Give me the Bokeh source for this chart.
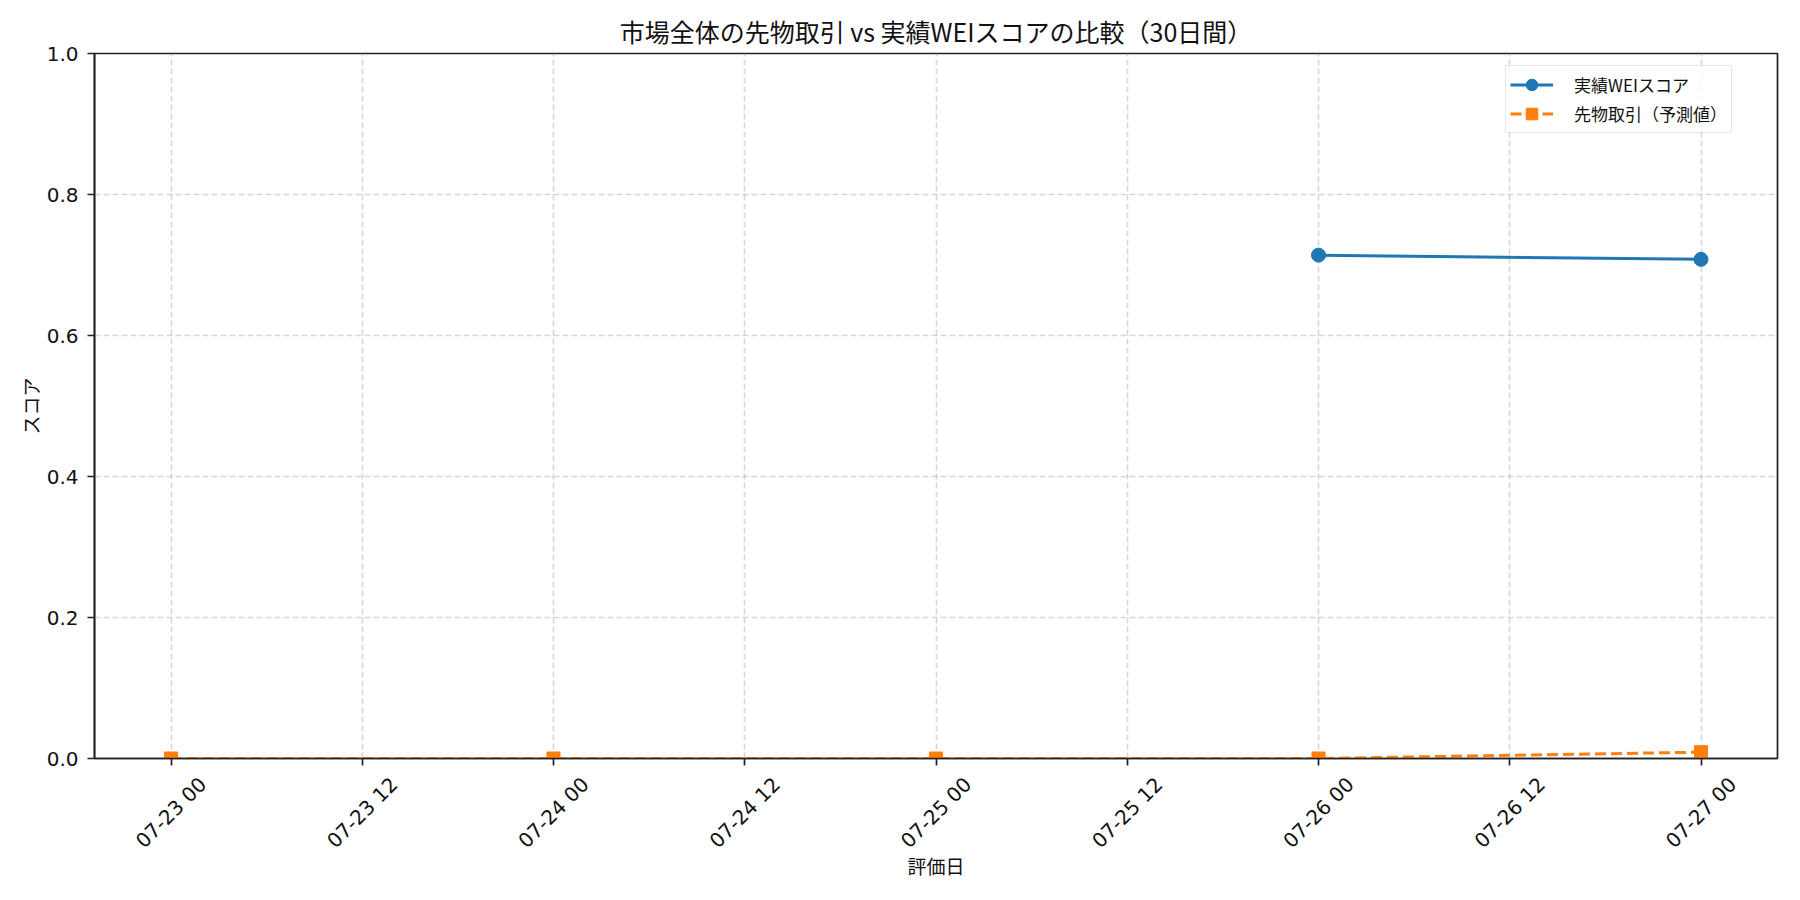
import datetime as dt
from bokeh.plotting import figure
from bokeh.layouts import column
from bokeh.models import (Range1d, FixedTicker, DatetimeTickFormatter, Legend,
                          LegendItem, NumeralTickFormatter)
from bokeh.core.properties import value
from bokeh.embed import file_html
from bokeh.resources import INLINE
from math import pi

# ---- data ----
actual_dates = ["2025-07-26", "2025-07-27"]
actual_wei = [0.714, 0.708]
futures_dates = ["2025-07-23", "2025-07-24", "2025-07-25", "2025-07-26", "2025-07-27"]
futures_pred = [0.0, 0.0, 0.0, 0.0, 0.009]
title_text = "市場全体の先物取引 vs 実績WEIスコアの比較（30日間）"
x_label = "評価日"
y_label = "スコア"
label_actual = "実績WEIスコア"
label_futures = "先物取引（予測値）"
y_ticks = [0.0, 0.2, 0.4, 0.6, 0.8, 1.0]

def to_dt(s):
    return dt.datetime.strptime(s, "%Y-%m-%d")

def to_ms(d):
    return d.replace(tzinfo=dt.timezone.utc).timestamp() * 1000

ax = [to_dt(s) for s in actual_dates]
fx = [to_dt(s) for s in futures_dates]
all_x = ax + fx
xmin, xmax = min(all_x), max(all_x)
span = xmax - xmin
x_start = xmin - span * 0.05
x_end = xmax + span * 0.05

# 12-hour ticks
tick_dts = []
t = xmin
while t <= xmax:
    tick_dts.append(t)
    t += dt.timedelta(hours=12)
ticks = [to_ms(d) for d in tick_dts]
tick_text = [d.strftime("%m-%d %H") for d in tick_dts]

FONT = "Noto Sans CJK JP"
TICK_FONT = "DejaVu Sans"
TICK_SIZE = "20px"
BLUE = "#1f77b4"
ORANGE = "#ff7f0e"
TXT = "#111111"

TOTAL_H = 884
TOP, FRAME_H, AXIS_B = 53, 705, 13
MAIN_H = TOP + FRAME_H + AXIS_B
LOWER_H = TOTAL_H - MAIN_H

p = figure(width=1784, height=MAIN_H, x_axis_type="datetime",
           output_backend="svg", toolbar_location=None,
           x_range=Range1d(to_ms(x_start), to_ms(x_end)), y_range=Range1d(0, 1),
           min_border_left=94, min_border_right=7,
           min_border_top=TOP, min_border_bottom=AXIS_B)

p.title.text = title_text
p.title.text_font = FONT
p.title.text_font_size = "25px"
p.title.text_font_style = "normal"
p.title.align = "center"
p.title.text_color = TXT

p.outline_line_color = "#222222"
p.outline_line_width = 1.7
p.outline_line_alpha = 1.0

for axis in (p.xaxis[0], p.yaxis[0]):
    axis.axis_line_color = "#222222"
    axis.axis_line_width = 1.7
    axis.major_tick_line_color = "#222222"
    axis.major_tick_line_width = 1.7
    axis.major_tick_out = 7
    axis.major_tick_in = 0
    axis.minor_tick_line_color = None
    axis.major_label_text_font = TICK_FONT
    axis.major_label_text_font_size = TICK_SIZE
    axis.major_label_text_color = TXT
    axis.axis_label_text_font = FONT
    axis.axis_label_text_font_size = "19px"
    axis.axis_label_text_font_style = "normal"
    axis.axis_label_text_color = TXT

p.xaxis.ticker = FixedTicker(ticks=ticks)
fmt = "%m-%d %H"
p.xaxis.formatter = DatetimeTickFormatter(
    milliseconds=fmt, seconds=fmt, minsec=fmt, minutes=fmt, hourmin=fmt,
    hours=fmt, days=fmt, months=fmt, years=fmt)
p.xaxis.major_label_text_alpha = 0.0   # visible labels are drawn centred below
p.xaxis.major_label_standoff = 0

p.yaxis.ticker = FixedTicker(ticks=y_ticks)
p.yaxis.formatter = NumeralTickFormatter(format="0.0")
p.yaxis.major_label_standoff = 9
p.yaxis.axis_label = y_label
p.yaxis.axis_label_standoff = 0

for g in (p.xgrid[0], p.ygrid[0]):
    g.grid_line_color = "#b0b0b0"
    g.grid_line_alpha = 0.5
    g.grid_line_width = 1.6
    g.grid_line_dash = "6 3"
p.xgrid.ticker = FixedTicker(ticks=ticks)
p.ygrid.ticker = FixedTicker(ticks=y_ticks)

axm = [to_ms(d) for d in ax]
fxm = [to_ms(d) for d in fx]
l1 = p.line(axm, actual_wei, line_color=BLUE, line_width=3)
s1 = p.scatter(axm, actual_wei, marker="circle", size=14, fill_color=BLUE,
               line_color=BLUE)
l2 = p.line(fxm, futures_pred, line_color=ORANGE, line_width=3, line_dash="11 5")
s2 = p.scatter(fxm, futures_pred, marker="square", size=13, fill_color=ORANGE,
               line_color=ORANGE)

legend = Legend(items=[LegendItem(label=label_actual, renderers=[l1, s1]),
                       LegendItem(label=label_futures, renderers=[l2, s2])],
                location=(1411, 625))
legend.label_text_font = FONT
legend.label_text_font_size = "17px"
legend.label_text_color = TXT
legend.border_line_color = "#cccccc"
legend.border_line_width = 1.5
legend.background_fill_alpha = 0.8
legend.glyph_width = 43
legend.glyph_height = 29
legend.label_standoff = 21
legend.label_height = 21
legend.spacing = 0
legend.padding = 4
legend.margin = 0
p.add_layout(legend)

# ---- lower strip: centred 45° tick labels + x-axis label (1 unit = 1 px) ----
p2 = figure(width=1784, height=LOWER_H, output_backend="svg",
            toolbar_location=None, x_range=p.x_range,
            y_range=Range1d(-LOWER_H, 0),
            x_axis_location=None, y_axis_location=None,
            min_border_left=94, min_border_right=7,
            min_border_top=0, min_border_bottom=0)
p2.outline_line_color = None
p2.xgrid.visible = False
p2.ygrid.visible = False

label_depth = 41  # centre of rotated tick labels below the strip top
p2.text(x=ticks, y=[-label_depth] * len(ticks), text=tick_text, angle=pi / 4,
        text_align="center", text_baseline="middle",
        text_font=value(TICK_FONT), text_font_size=value(TICK_SIZE),
        text_color=TXT)
mid_x = (p.x_range.start + p.x_range.end) / 2
p2.text(x=[mid_x], y=[-94], text=[x_label], text_align="center",
        text_baseline="middle", text_font=value(FONT),
        text_font_size=value("19px"), text_color=TXT)

layout = column(p, p2, spacing=0)
open("out.html", "w").write(file_html(layout, INLINE))
